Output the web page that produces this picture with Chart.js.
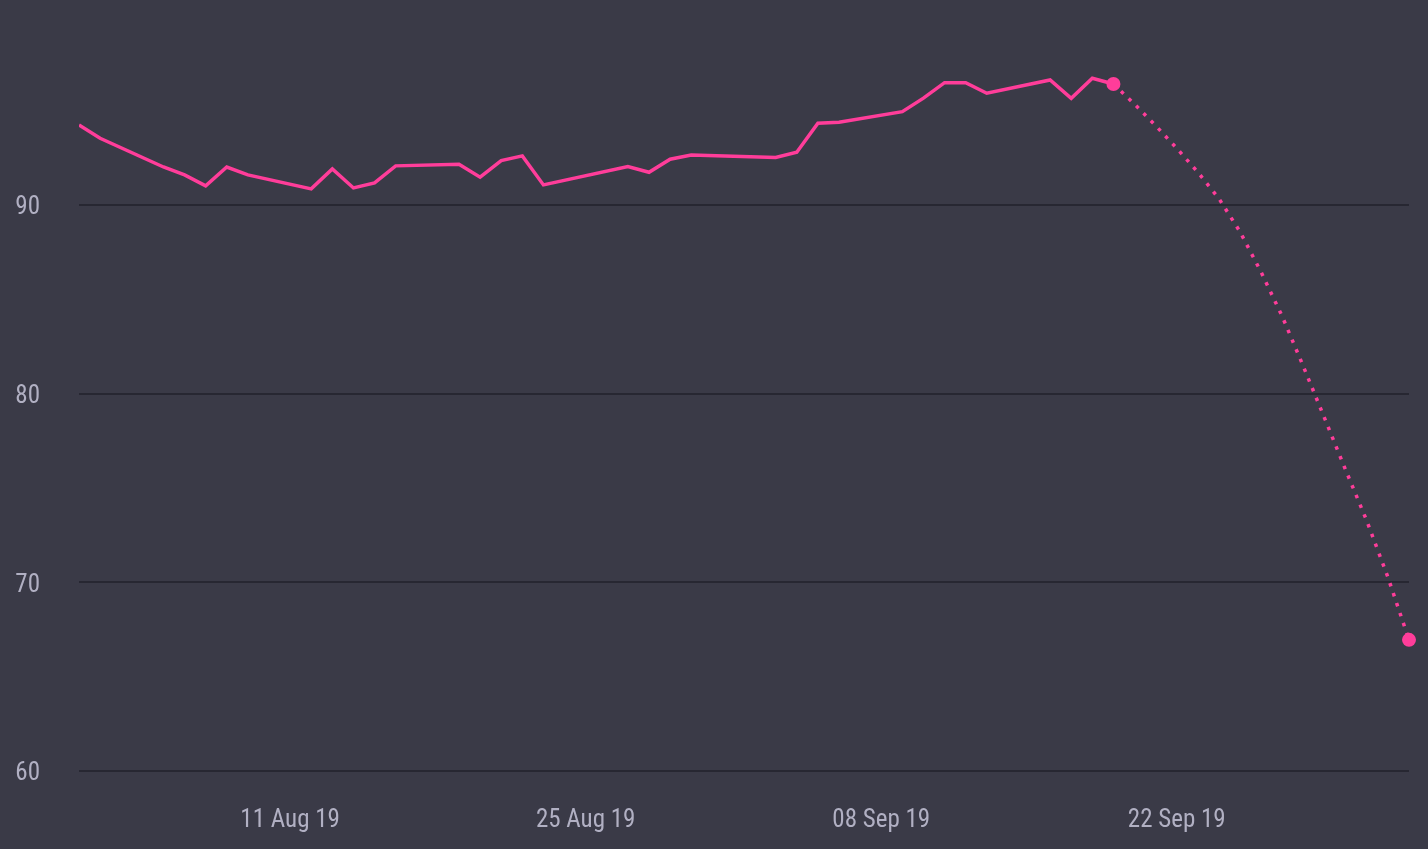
<!DOCTYPE html>
<html>
<head>
<meta charset="utf-8">
<script src="https://cdn.jsdelivr.net/npm/chart.js@4"></script>
<style>
	html, body { margin: 0; padding: 0; background: #3a3a47; }
	#wrap { width: 1428px; height: 849px; position: relative; }
</style>
</head>
<body>
<div id="wrap"><canvas id="chart"></canvas></div>
<script>
// observed values (business days)
const actualDates = [
	'2019-08-01','2019-08-02','2019-08-05','2019-08-06','2019-08-07','2019-08-08','2019-08-09',
	'2019-08-12','2019-08-13','2019-08-14','2019-08-15','2019-08-16',
	'2019-08-19','2019-08-20','2019-08-21','2019-08-22','2019-08-23',
	'2019-08-27','2019-08-28','2019-08-29','2019-08-30',
	'2019-09-03','2019-09-04','2019-09-05','2019-09-06',
	'2019-09-09','2019-09-10','2019-09-11','2019-09-12','2019-09-13',
	'2019-09-16','2019-09-17','2019-09-18','2019-09-19'
];
const actualValues = [
	94.24, 93.53, 92.01, 91.59, 91.01, 92.01, 91.59,
	90.85, 91.91, 90.90, 91.17, 92.07,
	92.15, 91.47, 92.35, 92.60, 91.06,
	92.03, 91.73, 92.42, 92.65,
	92.51, 92.79, 94.33, 94.38,
	94.94, 95.66, 96.48, 96.48, 95.92,
	96.62, 95.65, 96.71, 96.41
];

// projected values (dotted)
const forecastDates = [
	'2019-09-19','2019-09-20','2019-09-21','2019-09-22','2019-09-23','2019-09-24','2019-09-25',
	'2019-09-26','2019-09-27','2019-09-28','2019-09-29','2019-09-30','2019-10-01','2019-10-02','2019-10-03'
];
const forecastValues = [
	96.41, 95.34, 94.20, 93.00, 91.73, 90.33, 88.57,
	86.43, 84.08, 81.43, 78.70, 75.95, 73.26, 70.27, 66.95
];

const xTickDates = ['2019-08-11','2019-08-25','2019-09-08','2019-09-22'];
const xTickLabels = ['11 Aug 19','25 Aug 19','08 Sep 19','22 Sep 19'];
const yTickValues = [60, 70, 80, 90];

const startDate = '2019-08-01';
const endDate = '2019-10-03';

const PINK = '#ff3d9a';
const TEXT = '#b1b0c3';
const GRID = '#272732';
const FONT = "'Roboto Condensed', 'Liberation Sans Narrow', 'DejaVu Sans Condensed', sans-serif";

const DAY = 86400000;
const dayOf = s => (Date.parse(s + 'T00:00:00Z') - Date.parse(startDate + 'T00:00:00Z')) / DAY;

const toPoints = (dates, values) => dates.map((d, i) => ({ x: dayOf(d), y: values[i] }));

const lastIdx = forecastValues.length - 1;

new Chart(document.getElementById('chart').getContext('2d'), {
	type: 'line',
	data: {
		datasets: [
			{
				label: 'Actual',
				data: toPoints(actualDates, actualValues),
				borderColor: PINK,
				backgroundColor: PINK,
				borderWidth: 3.5,
				pointRadius: 0,
				tension: 0,
				fill: false
			},
			{
				label: 'Forecast',
				data: toPoints(forecastDates, forecastValues),
				borderColor: PINK,
				backgroundColor: PINK,
				borderWidth: 3.5,
				borderDash: [3.5, 7],
				pointRadius: ctx => (ctx.dataIndex === 0 || ctx.dataIndex === lastIdx) ? 7 : 0,
				pointBorderWidth: 0,
				tension: 0,
				fill: false,
				clip: false
			}
		]
	},
	options: {
		responsive: true,
		maintainAspectRatio: false,
		animation: false,
		layout: { autoPadding: false, padding: { left: 0, right: 19, top: 0, bottom: 0 } },
		plugins: {
			legend: { display: false },
			tooltip: { enabled: false }
		},
		scales: {
			x: {
				type: 'linear',
				min: dayOf(startDate),
				max: dayOf(endDate),
				grid: { display: false, drawTicks: false },
				border: { display: false },
				afterBuildTicks: axis => {
					axis.ticks = xTickDates.map(d => ({ value: dayOf(d) }));
				},
				afterFit: axis => { axis.height = 78; },
				ticks: {
					autoSkip: false,
					maxRotation: 0,
					padding: 35,
					color: TEXT,
					font: { family: FONT, size: 25 },
					callback: (v, i) => xTickLabels[i]
				}
			},
			y: {
				min: 60,
				max: 100.86,
				grid: { color: GRID, lineWidth: 2, drawTicks: false },
				border: { display: false },
				afterBuildTicks: axis => {
					axis.ticks = yTickValues.map(v => ({ value: v }));
				},
				afterFit: axis => {
					axis.width = 79;
					axis.paddingTop = 0;
					axis.paddingBottom = 0;
				},
				ticks: {
					padding: 39,
					labelOffset: 3,
					color: TEXT,
					font: { family: FONT, size: 25 }
				}
			}
		}
	}
});
</script>
</body>
</html>
